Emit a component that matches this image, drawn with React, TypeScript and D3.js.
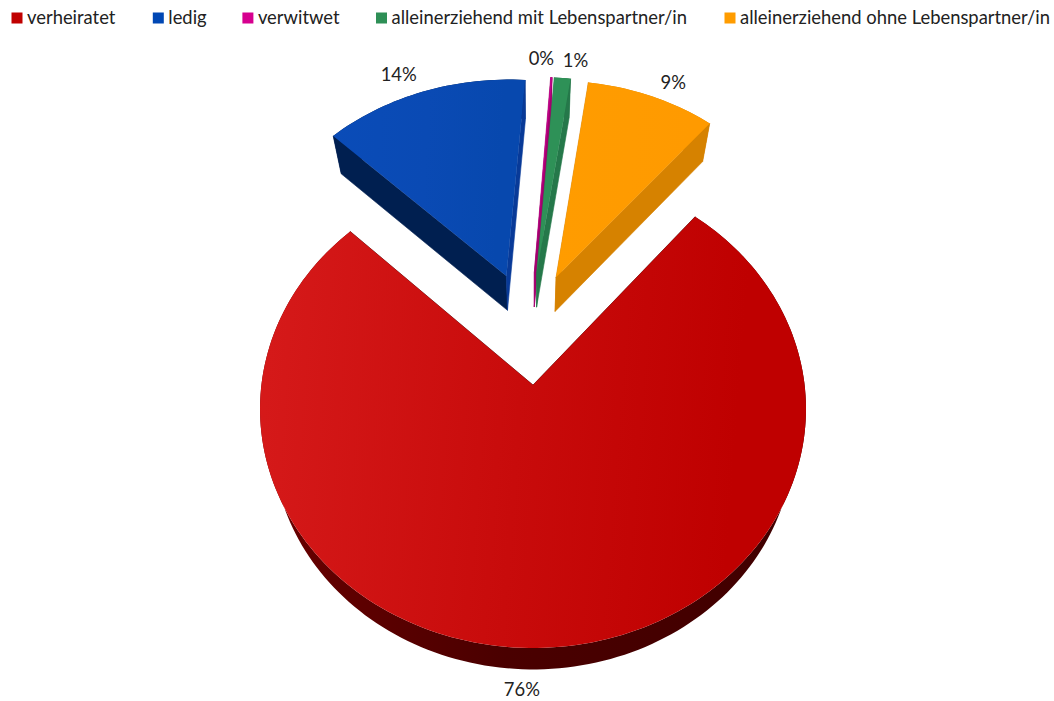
import React from "react";
import * as d3 from "d3";

// Family status shares and how they are presented
const categories = [
  "verheiratet",
  "ledig",
  "verwitwet",
  "alleinerziehend mit Lebenspartner/in",
  "alleinerziehend ohne Lebenspartner/in",
];
const shares = [76.1, 13.9, 0.1, 1.1, 8.8];
const labels = ["76%", "14%", "0%", "1%", "9%"];
const legendColors = ["#c00000", "#0047b4", "#d6008f", "#2e8f56", "#ff9c00"];
const legendX = [11.5, 152.8, 242.4, 376, 724.5];
const legendWidth = 11;
const legendTextGap = 4.5;

// Shading of each slice: top face (left to right), outer rim, and the two cut walls
const topLeft = ["#d61a1a", "#0a4cb8", "#c4008a", "#2e9157", "#ff9c00"];
const topMid = ["#c80b0b", "#0a4ab4", "#c4008a", "#2e9157", "#ff9b00"];
const topRight = ["#bf0000", "#0748ae", "#c4008a", "#2e9157", "#ff9a00"];
const rimColors = ["#4a0000", "#001f50", "#8a005c", "#1d6a3e", "#d68200"];
const startWall = ["#4a0000", "#001f50", "#a3006e", "#25784a", "#d68200"];
const endWall = ["#4a0000", "#083a98", "#a3006e", "#25784a", "#d68200"];

// Label offsets from the outer edge of each slice, in pixels
const labelDx = [-27, -24.5, -10, 13, 21.5];
const labelDy = [48, -11, -12, -10.5, -7.5];

// Camera: maps the pie's plane and depth to screen pixels
const originX = 533;
const originY = 385;
const scaleX = 271.6;
const scaleY = 236.6;
const tilt = 0.1004;
const depthShift = 32.5;
const depthShrink = 0.0466;
const explode = 0.25;

const rad = Math.PI / 180;

function project(X: number, Y: number, lowered: boolean): [number, number] {
  const w = 1 - tilt * Y + (lowered ? depthShrink : 0);
  return [
    originX + (scaleX * X) / w,
    originY + (scaleY * Y + (lowered ? depthShift : 0)) / w,
  ];
}

const pieLayout = d3
  .pie<number>()
  .sort(null)
  .startAngle(40 * rad)
  .endAngle(400 * rad);
const arcs = pieLayout(shares);

const direction = (a: number): [number, number] => [Math.sin(a), -Math.cos(a)];
const midAngle = (d: d3.PieArcDatum<number>) => (d.startAngle + d.endAngle) / 2;

// The large slice sits at the camera origin; every slice moves out from a shared hub
const mainDir = direction(midAngle(arcs[0]));
const hub: [number, number] = [-explode * mainDir[0], -explode * mainDir[1]];

const line = d3.line<[number, number]>();
const closed = (pts: [number, number][]) => line(pts) + "Z";

function slicePaths(d: d3.PieArcDatum<number>) {
  const dir = direction(midAngle(d));
  const ax = hub[0] + explode * dir[0];
  const ay = hub[1] + explode * dir[1];
  const steps = Math.max(4, Math.ceil((d.endAngle - d.startAngle) / (1.5 * rad)));
  const angles = d3.range(steps + 1).map((i) => d.startAngle + ((d.endAngle - d.startAngle) * i) / steps);
  const edge = (low: boolean) =>
    angles.map((a) => {
      const [sx, sy] = direction(a);
      return project(ax + sx, ay + sy, low);
    });
  const upper = edge(false);
  const lower = edge(true);
  const apexTop = project(ax, ay, false);
  const apexLow = project(ax, ay, true);
  const [mx, my] = direction(midAngle(d));
  return {
    top: closed([apexTop, ...upper]),
    rim: closed([...upper, ...[...lower].reverse()]),
    wallStart: closed([apexTop, upper[0], lower[0], apexLow]),
    wallEnd: closed([apexTop, upper[steps], lower[steps], apexLow]),
    mid: project(ax + mx, ay + my, false),
  };
}

const slices = arcs.map((d, i) => ({ i, d, ...slicePaths(d) }));
// Back slices first, the large front slice last
const paintOrder = [1, 2, 3, 4, 0];
const font = "Lato, Carlito, Calibri, sans-serif";
const fontSize = 18.4;

export default function App() {
  return (
    <svg
      width={1054}
      height={701}
      viewBox="0 0 1054 701"
      style={{ position: "absolute", left: 0, top: 0, background: "#fff" }}
    >
      <defs>
        {slices.map(({ i }) => (
          <linearGradient key={i} id={`face-${i}`} x1="0" x2="1" y1="0" y2="0.06">
            <stop offset="0" stopColor={topLeft[i]} />
            <stop offset="0.5" stopColor={topMid[i]} />
            <stop offset="0.9" stopColor={topRight[i]} />
            <stop offset="1" stopColor={topRight[i]} />
          </linearGradient>
        ))}
        <linearGradient id="rim-main" x1="0" x2="1" y1="0" y2="0">
          <stop offset="0" stopColor="#6a0000" />
          <stop offset="0.45" stopColor="#4a0000" />
          <stop offset="1" stopColor="#400000" />
        </linearGradient>
      </defs>

      {paintOrder.map((i) => {
        const s = slices[i];
        return (
          <g key={i}>
            <path d={s.rim} fill={i === 0 ? "url(#rim-main)" : rimColors[i]} />
            <path d={s.wallStart} fill={startWall[i]} stroke={startWall[i]} strokeWidth={0.6} />
            <path d={s.wallEnd} fill={endWall[i]} stroke={endWall[i]} strokeWidth={0.6} />
            <path d={s.top} fill={`url(#face-${i})`} />
          </g>
        );
      })}

      {slices.map(({ i, mid }) => (
        <text
          key={i}
          x={mid[0] + labelDx[i]}
          y={mid[1] + labelDy[i]}
          textAnchor="middle"
          fontFamily={font}
          fontSize={fontSize}
          fill="#222"
        >
          {labels[i]}
        </text>
      ))}

      {categories.map((name, i) => (
        <g key={name}>
          <rect x={legendX[i]} y={12.5} width={legendWidth} height={legendWidth} fill={legendColors[i]} />
          <text
            x={legendX[i] + legendWidth + legendTextGap}
            y={23.7}
            fontFamily={font}
            fontSize={fontSize}
            fill="#222"
          >
            {name}
          </text>
        </g>
      ))}
    </svg>
  );
}
